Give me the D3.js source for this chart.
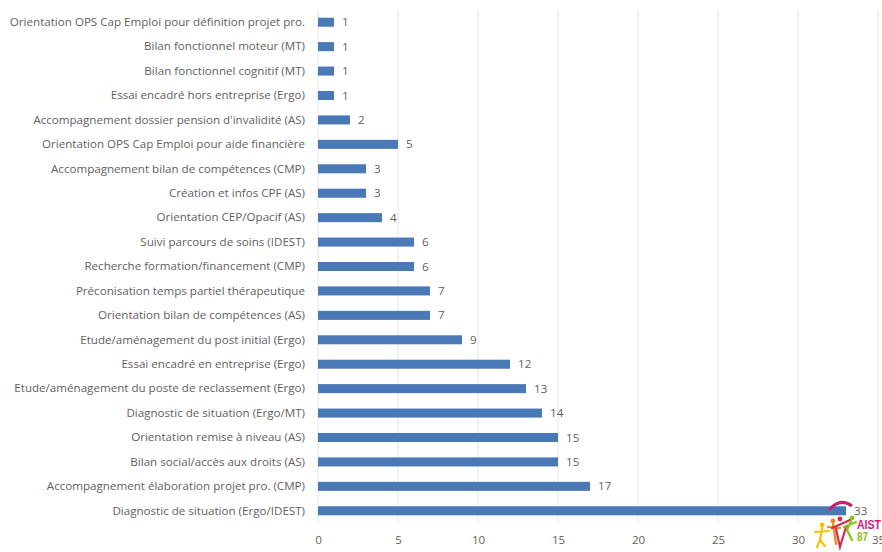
<!DOCTYPE html>
<html>
<head>
<meta charset="utf-8">
<script src="https://cdn.jsdelivr.net/npm/d3@7"></script>
<style>
  html, body { margin: 0; padding: 0; background: #ffffff; }
  svg { display: block; }
</style>
</head>
<body>
<svg id="chart" width="882" height="552"></svg>
<script>
// Categories, top to bottom
const categories = [
  "Orientation OPS Cap Emploi pour définition projet pro.",
  "Bilan fonctionnel moteur (MT)",
  "Bilan fonctionnel cognitif (MT)",
  "Essai encadré hors entreprise (Ergo)",
  "Accompagnement dossier pension d'invalidité (AS)",
  "Orientation OPS Cap Emploi pour aide financière",
  "Accompagnement bilan de compétences (CMP)",
  "Création et infos CPF (AS)",
  "Orientation CEP/Opacif (AS)",
  "Suivi parcours de soins (IDEST)",
  "Recherche formation/financement (CMP)",
  "Préconisation temps partiel thérapeutique",
  "Orientation bilan de compétences (AS)",
  "Etude/aménagement du post initial (Ergo)",
  "Essai encadré en entreprise (Ergo)",
  "Etude/aménagement du poste de reclassement (Ergo)",
  "Diagnostic de situation (Ergo/MT)",
  "Orientation remise à niveau (AS)",
  "Bilan social/accès aux droits (AS)",
  "Accompagnement élaboration projet pro. (CMP)",
  "Diagnostic de situation (Ergo/IDEST)"
];
const values = [1, 1, 1, 1, 2, 5, 3, 3, 4, 6, 6, 7, 7, 9, 12, 13, 14, 15, 15, 17, 33];
const xTicks = [0, 5, 10, 15, 20, 25, 30, 35];

const svg = d3.select("#chart");
const margin = { top: 10, right: 4, bottom: 29, left: 318 };
const W = 882, H = 552;
const innerH = H - margin.top - margin.bottom;

const x = d3.scaleLinear().domain([0, 35]).range([0, 560]);
const y = d3.scaleBand().domain(categories).range([0, innerH]).paddingInner(0.63).paddingOuter(0.315);

const font = "'Open Sans', sans-serif";
const textColor = "#5f5f5f";
const fontSize = 11.6;

const g = svg.append("g").attr("transform", `translate(${margin.left},${margin.top})`);

// Vertical gridlines
g.append("g")
  .selectAll("line")
  .data(xTicks)
  .join("line")
  .attr("x1", d => x(d)).attr("x2", d => x(d))
  .attr("y1", 0).attr("y2", innerH)
  .attr("stroke", "#e6e6e6")
  .attr("stroke-width", 1);

// Bars
g.append("g")
  .selectAll("rect")
  .data(values)
  .join("rect")
  .attr("x", x(0))
  .attr("y", (d, i) => y(categories[i]))
  .attr("width", d => x(d) - x(0))
  .attr("height", y.bandwidth())
  .attr("fill", "#4a79b8");

// Value labels
g.append("g")
  .selectAll("text")
  .data(values)
  .join("text")
  .attr("x", d => x(d) + 8)
  .attr("y", (d, i) => y(categories[i]) + y.bandwidth() / 2)
  .attr("dy", "0.35em")
  .attr("font-family", font)
  .attr("font-size", fontSize)
  .attr("fill", textColor)
  .text(d => d);

// Category axis (labels only)
const yAxis = g.append("g")
  .call(d3.axisLeft(y).tickSize(0).tickPadding(13));
yAxis.select(".domain").remove();
yAxis.selectAll("text")
  .attr("font-family", font)
  .attr("font-size", fontSize)
  .attr("fill", textColor);

// Value axis (labels only)
const xAxis = g.append("g")
  .attr("transform", `translate(0,${innerH})`)
  .call(d3.axisBottom(x).tickValues(xTicks).tickSize(0).tickPadding(13));
xAxis.select(".domain").remove();
xAxis.selectAll("text")
  .attr("font-family", font)
  .attr("font-size", fontSize)
  .attr("fill", textColor);

// Logo in the lower right corner
const logo = svg.append("g").attr("class", "logo");
logo.append("path")
  .attr("d", "M829,510 Q840,497 852,506")
  .attr("fill", "none").attr("stroke", "#c2246f").attr("stroke-width", 3);
const figures = [
  { hx: 822, hy: 525, c: "#f2c500", body: "M822,528 L820,540 M815,532 L829,531 M820,540 L817,547 M820,540 L825,546" },
  { hx: 833, hy: 521, c: "#f08a1c", body: "M833,524 L836,544 M828,527 L840,528" },
  { hx: 840, hy: 519, c: "#d92b4b", body: "M836,529 L840,547 L846,527 M832,528 L850,520" },
  { hx: 852, hy: 518, c: "#8cc21f", body: "M851,521 L847,530 L852,540 M844,527 L856,522" }
];
figures.forEach(f => {
  logo.append("circle").attr("cx", f.hx).attr("cy", f.hy).attr("r", 2.4).attr("fill", f.c);
  logo.append("path").attr("d", f.body).attr("fill", "none")
    .attr("stroke", f.c).attr("stroke-width", 2.2).attr("stroke-linecap", "round");
});
logo.append("text")
  .attr("x", 857).attr("y", 529)
  .attr("font-family", "'Liberation Sans', sans-serif")
  .attr("font-weight", "bold")
  .attr("font-size", 13)
  .attr("textLength", 24)
  .attr("lengthAdjust", "spacingAndGlyphs")
  .attr("fill", "#d4157c")
  .text("AIST");
logo.append("text")
  .attr("x", 857).attr("y", 541)
  .attr("font-family", "'Liberation Sans', sans-serif")
  .attr("font-weight", "bold")
  .attr("font-size", 12)
  .attr("textLength", 11)
  .attr("lengthAdjust", "spacingAndGlyphs")
  .attr("fill", "#8cc21f")
  .text("87");
</script>
</body>
</html>
